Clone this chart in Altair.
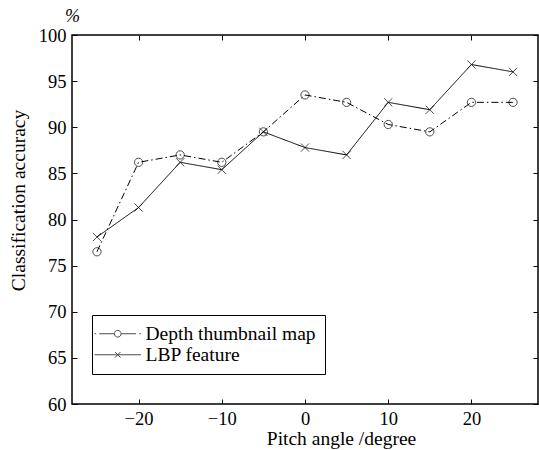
import altair as alt
import pandas as pd

angles = [-25, -20, -15, -10, -5, 0, 5, 10, 15, 20, 25]
depth_acc = [76.5, 86.2, 87.0, 86.2, 89.5, 93.5, 92.7, 90.3, 89.5, 92.7, 92.7]
lbp_acc = [78.1, 81.3, 86.2, 85.4, 89.5, 87.8, 87.0, 92.7, 91.9, 96.8, 96.0]
series = ["Depth thumbnail map", "LBP feature"]
x_ticks = [-20, -10, 0, 10, 20]
y_ticks = [60, 65, 70, 75, 80, 85, 90, 95, 100]

rows = []
for a, v in zip(angles, depth_acc):
    rows.append({"angle": a, "acc": v, "method": series[0]})
for a, v in zip(angles, lbp_acc):
    rows.append({"angle": a, "acc": v, "method": series[1]})
df = pd.DataFrame(rows)

FONT = "Liberation Serif"
xscale = alt.Scale(domain=[-28, 28], nice=False, zero=False)
yscale = alt.Scale(domain=[60, 100], nice=False, zero=False)

common = dict(domain=False, ticks=True, tickSize=5, offset=-5, tickColor="black",
              tickWidth=1, grid=False, labelFont=FONT, labelFontSize=18.5,
              labelColor="black", titleFont=FONT, titleFontSize=19.5,
              titleColor="black", titleFontWeight="normal")
notitle = {k: v for k, v in common.items() if not k.startswith("title")}

bottom_axis = alt.Axis(orient="bottom", values=x_ticks, labelPadding=5,
                       title="Pitch angle /degree", titleX=269, titlePadding=2,
                       **common)
left_axis = alt.Axis(orient="left", values=y_ticks, labelPadding=6,
                     title="Classification accuracy", titleY=165, titlePadding=10,
                     **common)
top_axis = alt.Axis(orient="top", values=x_ticks, labels=False, title=None, **notitle)
right_axis = alt.Axis(orient="right", values=y_ticks, labels=False, title=None, **notitle)

base = alt.Chart(df)

lines = base.mark_line(color="black", strokeWidth=1).encode(
    x=alt.X("angle:Q", scale=xscale, axis=bottom_axis),
    y=alt.Y("acc:Q", scale=yscale, axis=left_axis),
    strokeDash=alt.StrokeDash("method:N",
                              scale=alt.Scale(domain=series, range=[[7, 3, 1.5, 3], [1, 0]]),
                              legend=None),
    detail="method:N",
)

points = base.mark_point(filled=False, color="black", strokeWidth=1, size=68).encode(
    x=alt.X("angle:Q", scale=xscale, axis=top_axis),
    y=alt.Y("acc:Q", scale=yscale, axis=right_axis),
    shape=alt.Shape("method:N",
                    scale=alt.Scale(domain=series, range=["circle", "M-1,-1L1,1M-1,1L1,-1"]),
                    legend=None),
)

legend_paths = [
    "M-2.9,0H-2.7M-2.3,0H-0.45M0.45,0H2.3M2.7,0H2.9"
    "M0.42,0A0.42,0.42,0,1,1,-0.42,0A0.42,0.42,0,1,1,0.42,0",
    "M-2.9,0H2.9M-0.35,-0.35L0.35,0.35M-0.35,0.35L0.35,-0.35",
]

legend_layer = base.transform_filter("false").mark_point(
    filled=False, color="black", strokeWidth=1
).encode(
    x=alt.X("angle:Q", scale=xscale, axis=None),
    y=alt.Y("acc:Q", scale=yscale, axis=None),
    shape=alt.Shape("method:N",
                    scale=alt.Scale(domain=series, range=legend_paths),
                    legend=alt.Legend(orient="none", legendX=20, legendY=280, title=None,
                                      strokeColor="black", fillColor="white",
                                      padding=9, labelFont=FONT, labelFontSize=19.5,
                                      labelColor="black", symbolSize=256,
                                      symbolStrokeWidth=1, symbolStrokeColor="black",
                                      symbolOffset=7, labelOffset=18, rowPadding=0,
                                      labelLimit=0)),
)

chart = alt.layer(lines, points, legend_layer).resolve_axis(
    x="independent", y="independent"
).resolve_scale(shape="independent").properties(
    width=466, height=369,
    autosize=alt.AutoSizeParams(type="none"),
    padding={"left": 72, "top": 35, "right": 1, "bottom": 46},
    title=alt.TitleParams(text="%", anchor="start", frame="group", dx=-7, offset=0,
                          font=FONT, fontSize=18, fontStyle="italic",
                          fontWeight="normal", color="black"),
).configure_view(stroke="black", strokeWidth=1.5)

chart.save("out.html", embed_options={"renderer": "svg", "actions": False})
